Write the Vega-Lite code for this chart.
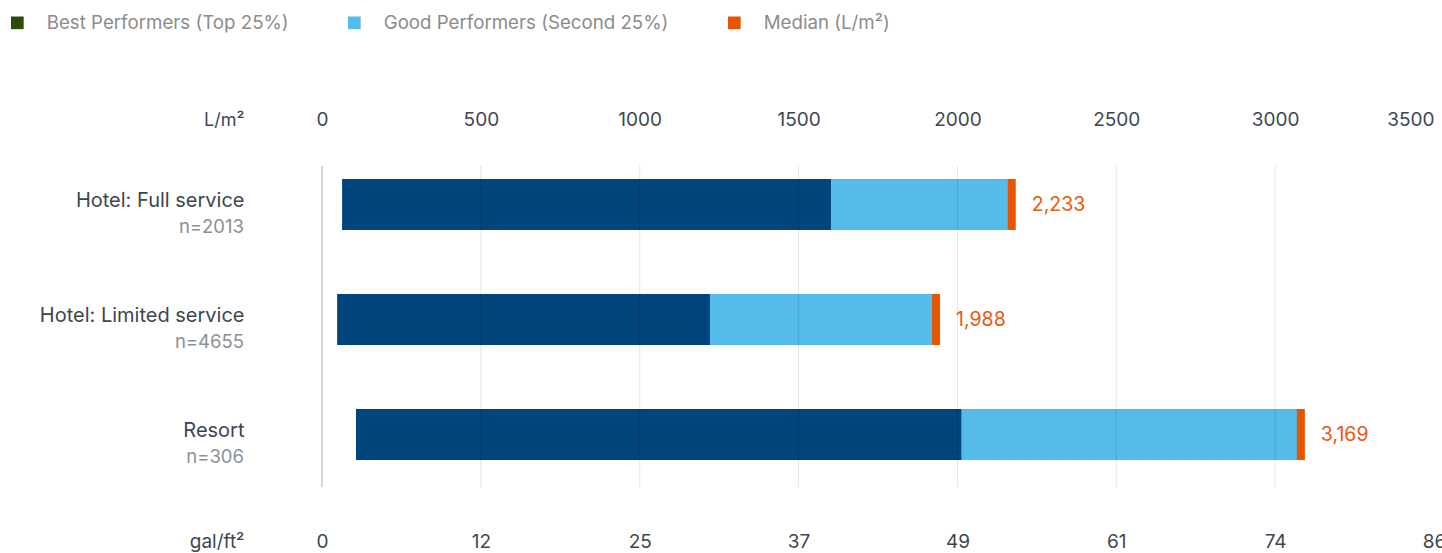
{
  "$schema": "https://vega.github.io/schema/vega-lite/v6.json",
  "width": 1112,
  "height": 321,
  "autosize": {"type": "none"},
  "padding": {"left": 322, "top": 166, "right": 8, "bottom": 66},
  "background": "#ffffff",
  "config": {
    "font": "Inter",
    "view": {"stroke": null},
    "text": {"font": "Inter"}
  },
  "data": {
    "values": [
      {"category": "Hotel: Full service", "sample": "n=2013", "low": 65, "p25": 1648, "median": 2233},
      {"category": "Hotel: Limited service", "sample": "n=4655", "low": 49, "p25": 1256, "median": 1988},
      {"category": "Resort", "sample": "n=306", "low": 110, "p25": 2071, "median": 3169}
    ]
  },
  "layer": [
    {
      "mark": {"type": "bar", "color": "#00457c"},
      "encoding": {
        "y": {
          "field": "category",
          "type": "nominal",
          "scale": {
            "domain": ["Hotel: Full service", "Hotel: Limited service", "Resort"],
            "paddingInner": 0.5565,
            "paddingOuter": 0.1739,
            "align": 0.325
          },
          "axis": {
            "title": null,
            "ticks": false,
            "tickSize": 0,
            "domain": false,
            "grid": false,
            "labelPadding": 78,
            "labelBaseline": "alphabetic",
            "labelOffset": 2.5,
            "labelFontSize": 20,
            "labelColor": "#3c4651",
            "labelLimit": 0
          }
        },
        "x": {
          "field": "low",
          "type": "quantitative",
          "scale": {"domain": [0, 3600], "nice": false, "zero": false},
          "axis": null
        },
        "x2": {"field": "p25"}
      }
    },
    {
      "mark": {"type": "bar"},
      "encoding": {
        "y": {"field": "category", "type": "nominal"},
        "x": {
          "field": "p25",
          "type": "quantitative",
          "scale": {"domain": [0, 3600], "nice": false, "zero": false},
          "axis": null
        },
        "x2": {"field": "median"},
        "color": {
          "datum": "Good Performers (Second 25%)",
          "type": "nominal",
          "scale": {
            "domain": ["Best Performers (Top 25%)", "Good Performers (Second 25%)", "Median (L/m²)"],
            "range": ["#2f4b0c", "#55bbea", "#e85500"]
          },
          "legend": {
            "orient": "none",
            "legendX": -314,
            "legendY": -153,
            "direction": "horizontal",
            "title": null,
            "padding": 0,
            "symbolType": "square",
            "symbolSize": 160,
            "symbolStrokeWidth": 0,
            "symbolOpacity": 1,
            "labelFontSize": 18.7,
            "labelColor": "#8c8c8c",
            "labelOffset": 20,
            "labelLimit": 0,
            "columnPadding": 56
          }
        }
      }
    },
    {
      "mark": {"type": "tick", "thickness": 8, "size": 51, "color": "#e85500", "opacity": 1},
      "encoding": {
        "y": {"field": "category", "type": "nominal"},
        "x": {
          "field": "median",
          "type": "quantitative",
          "scale": {"domain": [0, 3600], "nice": false, "zero": false},
          "axis": null
        }
      }
    },
    {
      "mark": {"type": "text", "align": "left", "baseline": "middle", "dx": 20, "fontSize": 19.5, "color": "#e8590c"},
      "encoding": {
        "y": {"field": "category", "type": "nominal"},
        "x": {
          "field": "median",
          "type": "quantitative",
          "scale": {"domain": [0, 3600], "nice": false, "zero": false},
          "axis": null
        },
        "text": {"field": "median", "type": "quantitative", "format": ","}
      }
    },
    {
      "data": {"values": [{"v": 500}, {"v": 1000}, {"v": 1500}, {"v": 2000}, {"v": 2500}, {"v": 3000}]},
      "mark": {"type": "rule", "color": "#000000", "opacity": 0.1, "strokeWidth": 1},
      "encoding": {
        "x": {
          "field": "v",
          "type": "quantitative",
          "scale": {"domain": [0, 3500], "nice": false, "zero": false},
          "axis": {
            "orient": "bottom",
            "values": [0, 500, 1000, 1500, 2000, 2500, 3000, 3500],
            "labelExpr": "round(datum.value / 40.7458)",
            "grid": false,
            "ticks": false,
            "tickSize": 0,
            "domain": false,
            "labelFlush": false,
            "labelOverlap": false,
            "labelBound": false,
            "labelPadding": 60,
            "labelBaseline": "alphabetic",
            "labelFontSize": 19,
            "labelColor": "#3d4752",
            "title": "gal/ft²",
            "titleX": -78,
            "titleY": 60,
            "titleAlign": "right",
            "titleAnchor": "start",
            "titleBaseline": "alphabetic",
            "titleAngle": 0,
            "titleFontSize": 19,
            "titleFontWeight": "normal",
            "titleColor": "#3d4752"
          }
        }
      }
    },
    {
      "data": {"values": [{"v": 0}]},
      "mark": {"type": "rule", "color": "#d3d7db", "strokeWidth": 2},
      "encoding": {
        "x": {
          "field": "v",
          "type": "quantitative",
          "scale": {"domain": [0, 3500], "nice": false, "zero": false},
          "axis": {
            "orient": "top",
            "values": [0, 500, 1000, 1500, 2000, 2500, 3000, 3500],
            "format": "d",
            "grid": false,
            "ticks": false,
            "tickSize": 0,
            "domain": false,
            "labelFlush": false,
            "labelOverlap": false,
            "labelBound": false,
            "labelAlign": {"condition": {"test": "datum.value === 3500", "value": "right"}, "value": "center"},
            "labelPadding": 41,
            "labelBaseline": "alphabetic",
            "labelFontSize": 19,
            "labelColor": "#3d4752",
            "title": "L/m²",
            "titleX": -78,
            "titleY": -41,
            "titleAlign": "right",
            "titleAnchor": "start",
            "titleBaseline": "alphabetic",
            "titleAngle": 0,
            "titleFontSize": 18,
            "titleFontWeight": "normal",
            "titleColor": "#3d4752"
          }
        }
      }
    },
    {
      "mark": {"type": "text", "align": "right", "baseline": "alphabetic", "dx": -78, "dy": 28, "fontSize": 18.5, "color": "#8b9096"},
      "encoding": {
        "y": {"field": "category", "type": "nominal"},
        "x": {
          "datum": 0,
          "type": "quantitative",
          "scale": {"domain": [0, 3500], "nice": false, "zero": false},
          "axis": null
        },
        "text": {"field": "sample", "type": "nominal"}
      }
    }
  ],
  "resolve": {"scale": {"x": "independent"}}
}
